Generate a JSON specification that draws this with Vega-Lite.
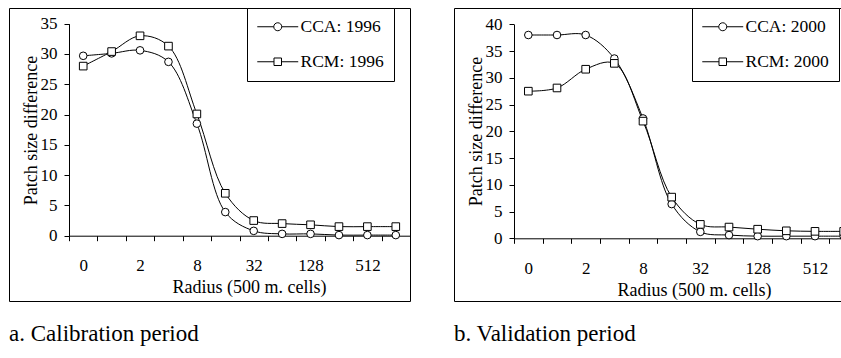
{
  "$schema": "https://vega.github.io/schema/vega-lite/v6.json",
  "background": "white",
  "padding": {"left": 8, "top": 7, "right": 0, "bottom": 0},
  "spacing": 42,
  "config": {
    "font": "Liberation Serif, Times New Roman, serif",
    "view": {"stroke": "black", "strokeWidth": 1},
    "axis": {
      "domainColor": "black", "tickColor": "black", "labelColor": "black", "titleColor": "black",
      "labelFont": "Liberation Serif, Times New Roman, serif", "titleFont": "Liberation Serif, Times New Roman, serif",
      "labelFontSize": 17, "titleFontSize": 18, "titleFontWeight": "normal",
      "tickSize": 5, "grid": false, "labelOverlap": false
    },
    "legend": {
      "labelFont": "Liberation Serif, Times New Roman, serif", "labelFontSize": 17.5, "labelColor": "black"
    }
  },
  "resolve": {"scale": {"color": "independent", "shape": "independent", "x": "independent", "y": "independent"}, "legend": {"shape": "independent"}},
  "hconcat": [
    {
      "width": 401, "height": 293,
      "title": {"text": "a. Calibration period", "orient": "bottom", "anchor": "start", "fontSize": 23, "fontWeight": "normal", "font": "Liberation Serif, Times New Roman, serif", "color": "black", "offset": 40, "baseline": "alphabetic"},
      "data": {"values": [
        {"series": "CCA: 1996", "radius": "0", "value": 29.7},
        {"series": "CCA: 1996", "radius": "1", "value": 30.1},
        {"series": "CCA: 1996", "radius": "2", "value": 30.6},
        {"series": "CCA: 1996", "radius": "4", "value": 28.7},
        {"series": "CCA: 1996", "radius": "8", "value": 18.5},
        {"series": "CCA: 1996", "radius": "16", "value": 3.9},
        {"series": "CCA: 1996", "radius": "32", "value": 0.8},
        {"series": "CCA: 1996", "radius": "64", "value": 0.3},
        {"series": "CCA: 1996", "radius": "128", "value": 0.3},
        {"series": "CCA: 1996", "radius": "256", "value": 0.1},
        {"series": "CCA: 1996", "radius": "512", "value": 0.1},
        {"series": "CCA: 1996", "radius": "1024", "value": 0.1},
        {"series": "RCM: 1996", "radius": "0", "value": 28.0},
        {"series": "RCM: 1996", "radius": "1", "value": 30.4},
        {"series": "RCM: 1996", "radius": "2", "value": 33.0},
        {"series": "RCM: 1996", "radius": "4", "value": 31.3},
        {"series": "RCM: 1996", "radius": "8", "value": 20.1},
        {"series": "RCM: 1996", "radius": "16", "value": 7.0},
        {"series": "RCM: 1996", "radius": "32", "value": 2.5},
        {"series": "RCM: 1996", "radius": "64", "value": 2.0},
        {"series": "RCM: 1996", "radius": "128", "value": 1.8},
        {"series": "RCM: 1996", "radius": "256", "value": 1.5},
        {"series": "RCM: 1996", "radius": "512", "value": 1.5},
        {"series": "RCM: 1996", "radius": "1024", "value": 1.5}
      ]},
      "encoding": {
        "x": {"field": "radius", "type": "ordinal", "sort": ["0","1","2","4","8","16","32","64","128","256","512","1024"],
          "scale": {"type": "band", "range": [60, 401], "paddingInner": 0, "paddingOuter": 0},
          "axis": {"orient": "bottom", "offset": -65.3, "title": "Radius (500 m. cells)", "titleX": 240, "titleY": 52, "titleBaseline": "middle", "titleAlign": "center",
            "tickBand": "extent", "labelAngle": 0, "labelPadding": 17, "labelBaseline": "top",
            "labelExpr": "indexof(['0','2','8','32','128','512'], datum.label) >= 0 ? datum.label : ''"}},
        "y": {"field": "value", "type": "quantitative",
          "scale": {"domain": [0, 35], "range": [227.7, 15.7], "nice": false},
          "axis": {"orient": "left", "offset": -60, "values": [0,5,10,15,20,25,30,35], "title": "Patch size difference",
            "titleX": -38, "titleY": 122, "titleAngle": -90, "titleBaseline": "middle", "titleAlign": "center", "labelPadding": 7}}
      },
      "layer": [
        {"mark": {"type": "line", "interpolate": "catmull-rom", "strokeWidth": 1, "color": "black"},
          "encoding": {"detail": {"field": "series", "type": "nominal"}}},
        {"mark": {"type": "point", "filled": true, "fill": "white", "stroke": "black", "strokeWidth": 1, "size": 58, "opacity": 1},
          "encoding": {"shape": {"field": "series", "type": "nominal", "scale": {"domain": ["CCA: 1996", "RCM: 1996"], "range": ["circle", "square"]}, "legend": null}}},
        {"transform": [{"filter": "false"}],
          "mark": {"type": "point", "filled": false, "color": "black", "strokeWidth": 1, "opacity": 1},
          "encoding": {"shape": {"field": "series", "type": "nominal",
            "scale": {"domain": ["CCA: 1996", "RCM: 1996"], "range": ["M-1.06,0H1M2,0H4.06M1,0A0.5,0.5,0,1,0,2,0A0.5,0.5,0,1,0,1,0Z", "M-1.06,0H1.03M1.97,0H4.06M1.03,-0.47H1.97V0.47H1.03Z"]},
            "legend": {"title": null, "orient": "none", "legendX": 238, "legendY": 0, "strokeColor": "black", "fillColor": "white", "padding": 10,
              "symbolSize": 256, "symbolStrokeWidth": 1, "symbolStrokeColor": "black", "symbolOpacity": 1,
              "labelOffset": 26, "rowPadding": 16}}}}
      ],
      "resolve": {"scale": {"shape": "independent"}}
    },
    {
      "width": 404, "height": 293,
      "title": {"text": "b. Validation period", "orient": "bottom", "anchor": "start", "fontSize": 23, "fontWeight": "normal", "font": "Liberation Serif, Times New Roman, serif", "color": "black", "offset": 40, "baseline": "alphabetic"},
      "data": {"values": [
        {"series": "CCA: 2000", "radius": "0", "value": 38.0},
        {"series": "CCA: 2000", "radius": "1", "value": 38.0},
        {"series": "CCA: 2000", "radius": "2", "value": 38.0},
        {"series": "CCA: 2000", "radius": "4", "value": 33.6},
        {"series": "CCA: 2000", "radius": "8", "value": 22.4},
        {"series": "CCA: 2000", "radius": "16", "value": 6.4},
        {"series": "CCA: 2000", "radius": "32", "value": 1.2},
        {"series": "CCA: 2000", "radius": "64", "value": 0.6},
        {"series": "CCA: 2000", "radius": "128", "value": 0.4},
        {"series": "CCA: 2000", "radius": "256", "value": 0.4},
        {"series": "CCA: 2000", "radius": "512", "value": 0.4},
        {"series": "CCA: 2000", "radius": "1024", "value": 0.4},
        {"series": "RCM: 2000", "radius": "0", "value": 27.5},
        {"series": "RCM: 2000", "radius": "1", "value": 28.1},
        {"series": "RCM: 2000", "radius": "2", "value": 31.6},
        {"series": "RCM: 2000", "radius": "4", "value": 32.7},
        {"series": "RCM: 2000", "radius": "8", "value": 21.9},
        {"series": "RCM: 2000", "radius": "16", "value": 7.7},
        {"series": "RCM: 2000", "radius": "32", "value": 2.6},
        {"series": "RCM: 2000", "radius": "64", "value": 2.1},
        {"series": "RCM: 2000", "radius": "128", "value": 1.7},
        {"series": "RCM: 2000", "radius": "256", "value": 1.4},
        {"series": "RCM: 2000", "radius": "512", "value": 1.3},
        {"series": "RCM: 2000", "radius": "1024", "value": 1.3}
      ]},
      "encoding": {
        "x": {"field": "radius", "type": "ordinal", "sort": ["0","1","2","4","8","16","32","64","128","256","512","1024"],
          "scale": {"type": "band", "range": [60, 404], "paddingInner": 0, "paddingOuter": 0},
          "axis": {"orient": "bottom", "offset": -62.7, "title": "Radius (500 m. cells)", "titleX": 240, "titleY": 52, "titleBaseline": "middle", "titleAlign": "center",
            "tickBand": "extent", "labelAngle": 0, "labelPadding": 17, "labelBaseline": "top",
            "labelExpr": "indexof(['0','2','8','32','128','512'], datum.label) >= 0 ? datum.label : ''"}},
        "y": {"field": "value", "type": "quantitative",
          "scale": {"domain": [0, 40], "range": [230.3, 16.3], "nice": false},
          "axis": {"orient": "left", "offset": -60, "values": [0,5,10,15,20,25,30,35,40], "title": "Patch size difference",
            "titleX": -38, "titleY": 123, "titleAngle": -90, "titleBaseline": "middle", "titleAlign": "center", "labelPadding": 7}}
      },
      "layer": [
        {"mark": {"type": "line", "interpolate": "catmull-rom", "strokeWidth": 1, "color": "black"},
          "encoding": {"detail": {"field": "series", "type": "nominal"}}},
        {"mark": {"type": "point", "filled": true, "fill": "white", "stroke": "black", "strokeWidth": 1, "size": 58, "opacity": 1},
          "encoding": {"shape": {"field": "series", "type": "nominal", "scale": {"domain": ["CCA: 2000", "RCM: 2000"], "range": ["circle", "square"]}, "legend": null}}},
        {"transform": [{"filter": "false"}],
          "mark": {"type": "point", "filled": false, "color": "black", "strokeWidth": 1, "opacity": 1},
          "encoding": {"shape": {"field": "series", "type": "nominal",
            "scale": {"domain": ["CCA: 2000", "RCM: 2000"], "range": ["M-1.06,0H1M2,0H4.06M1,0A0.5,0.5,0,1,0,2,0A0.5,0.5,0,1,0,1,0Z", "M-1.06,0H1.03M1.97,0H4.06M1.03,-0.47H1.97V0.47H1.03Z"]},
            "legend": {"title": null, "orient": "none", "legendX": 238, "legendY": 0, "strokeColor": "black", "fillColor": "white", "padding": 10,
              "symbolSize": 256, "symbolStrokeWidth": 1, "symbolStrokeColor": "black", "symbolOpacity": 1,
              "labelOffset": 26, "rowPadding": 16}}}}
      ],
      "resolve": {"scale": {"shape": "independent"}}
    }
  ]
}
